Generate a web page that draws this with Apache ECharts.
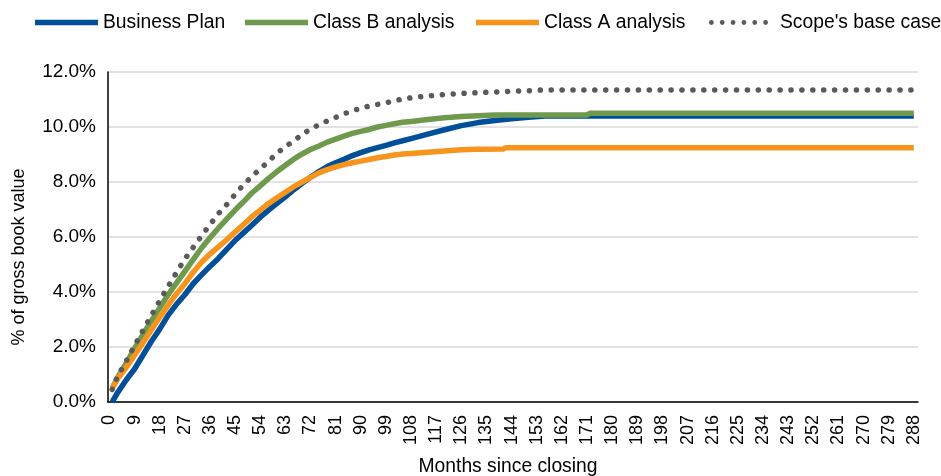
<!DOCTYPE html>
<html>
<head>
<meta charset="utf-8">
<script src="https://cdn.jsdelivr.net/npm/echarts@6/dist/echarts.min.js"></script>
<style>html,body{margin:0;padding:0;background:#fff}#c{width:941px;height:476px}</style>
</head>
<body>
<div id="c"></div>
<script>
// x-axis categories: months since closing
const categories = Array.from({length: 290}, (_, i) => String(i));

// Business Plan
const bpMonths = [1,3,6,9,12,15,18,21,24,27,30,33,36,39,42,45,48,51,54,57,60,63,66,69,72,75,78,81,84,87,90,93,96,99,102,105,108,114,120,126,132,138,144,150,156,288];
const bpValues = [0,0.35,0.8,1.2,1.7,2.2,2.65,3.15,3.55,3.9,4.3,4.62,4.93,5.22,5.55,5.87,6.15,6.43,6.72,6.98,7.22,7.46,7.72,7.95,8.17,8.38,8.56,8.7,8.83,8.96,9.07,9.17,9.25,9.33,9.42,9.5,9.58,9.74,9.9,10.05,10.16,10.24,10.3,10.35,10.4,10.4];

// Class B analysis
const cbMonths = [1,3,6,9,12,15,18,21,24,27,30,33,36,39,42,45,48,51,54,57,60,63,66,69,72,75,78,81,84,87,90,93,96,99,102,105,108,114,120,126,132,138,171,172,288];
const cbValues = [0.5,0.9,1.4,1.95,2.45,2.95,3.42,3.9,4.32,4.75,5.18,5.6,5.97,6.32,6.65,6.98,7.28,7.6,7.86,8.13,8.38,8.61,8.83,9.02,9.18,9.31,9.45,9.56,9.67,9.77,9.84,9.91,10.0,10.06,10.12,10.17,10.2,10.27,10.34,10.38,10.41,10.44,10.44,10.5,10.5];

// Class A analysis
const caMonths = [1,3,6,9,12,15,18,21,24,27,30,33,36,39,42,45,48,51,54,57,60,63,66,69,72,75,78,81,84,87,90,93,96,99,102,105,108,114,120,126,132,141,142,288];
const caValues = [0.5,0.85,1.25,1.7,2.15,2.62,3.08,3.52,3.93,4.3,4.72,5.08,5.38,5.64,5.9,6.18,6.45,6.74,6.98,7.22,7.43,7.63,7.83,8.0,8.17,8.33,8.45,8.55,8.63,8.7,8.76,8.82,8.88,8.93,8.98,9.02,9.04,9.08,9.13,9.17,9.19,9.2,9.25,9.25];

// Scope's base case
const sbMonths = [1,3,6,9,12,15,18,21,24,27,30,33,36,39,42,45,48,51,54,57,60,63,66,69,72,75,78,81,84,87,90,93,96,99,102,105,108,114,120,126,132,138,144,150,156,288];
const sbValues = [0.46,0.95,1.48,2.05,2.6,3.15,3.68,4.2,4.7,5.2,5.62,6.04,6.45,6.85,7.18,7.55,7.9,8.2,8.48,8.75,9.05,9.28,9.5,9.72,9.93,10.08,10.22,10.35,10.48,10.59,10.68,10.76,10.82,10.88,10.95,11.02,11.06,11.13,11.18,11.22,11.25,11.27,11.3,11.32,11.35,11.35];

const seriesNames = ['Business Plan', 'Class B analysis', 'Class A analysis', "Scope's base case"];
const seriesColors = ['#004F98', '#6F9A4E', '#F7941D', '#5A5A5A'];

const pair = (ms, vs) => ms.map((m, i) => [m, vs[i]]);
const FONT = 'Liberation Sans, Arial, sans-serif';

const LINE_ICON = 'path://M0,0 H62 V5.5 H0 Z';
let dotPath = 'path://';
for (let k = 0; k < 6; k++) {
  const cx = 2.5 + k * 11.3;
  dotPath += 'M' + (cx - 2.5) + ',2.5 a2.5,2.5 0 1,0 5,0 a2.5,2.5 0 1,0 -5,0 ';
}

const legendAt = (i, left, icon, width, textPad) => ({
  left, top: 13, padding: 0, itemWidth: width, itemHeight: 20,
  itemStyle: {borderWidth: 0},
  textStyle: {fontSize: 19.3, color: '#000', fontFamily: FONT, padding: textPad || 0},
  data: [{name: seriesNames[i], icon}]
});

const chart = echarts.init(document.getElementById('c'), null, {renderer: 'canvas'});
const lineSeries = (name, color, data, extra) => Object.assign({
  name, type: 'line', data, symbol: 'none', showSymbol: false,
  lineStyle: {color, width: 5.5, cap: 'butt', join: 'round'},
  itemStyle: {color},
  animation: false
}, extra || {});

chart.setOption({
  animation: false,
  textStyle: {fontFamily: FONT},
  legend: [
    legendAt(0, 35, LINE_ICON, 63),
    legendAt(1, 245, LINE_ICON, 63),
    legendAt(2, 476, LINE_ICON, 63),
    legendAt(3, 709, dotPath, 59, [0, 0, 0, 7])
  ],
  grid: {left: 108, right: 23, top: 72, bottom: 74, containLabel: false},
  xAxis: {
    type: 'category', data: categories, boundaryGap: true,
    axisLine: {lineStyle: {color: '#000', width: 1.5}},
    axisTick: {show: false},
    axisLabel: {interval: 8, rotate: 90, fontSize: 18, color: '#000', margin: 13, fontFamily: FONT},
    splitLine: {show: false}
  },
  yAxis: {
    type: 'value', min: 0, max: 12, interval: 2,
    axisLine: {show: true, lineStyle: {color: '#000', width: 1.5}},
    axisTick: {show: false},
    axisLabel: {formatter: v => v.toFixed(1) + '%', fontSize: 19, color: '#000', margin: 12, fontFamily: FONT},
    splitLine: {show: true, lineStyle: {color: '#d9d9d9', width: 1.5}}
  },
  graphic: [
    {type: 'text', x: 508, y: 467, style: {text: 'Months since closing', fontSize: 19.3, fill: '#000', fontFamily: FONT, textAlign: 'center', textVerticalAlign: 'middle'}},
    {type: 'text', x: 19, y: 257, rotation: Math.PI / 2, style: {text: '% of gross book value', fontSize: 18, fill: '#000', fontFamily: FONT, textAlign: 'center', textVerticalAlign: 'middle'}}
  ],
  series: [
    lineSeries(seriesNames[0], seriesColors[0], pair(bpMonths, bpValues)),
    lineSeries(seriesNames[1], seriesColors[1], pair(cbMonths, cbValues)),
    lineSeries(seriesNames[2], seriesColors[2], pair(caMonths, caValues)),
    lineSeries(seriesNames[3], seriesColors[3], pair(sbMonths, sbValues), {
      lineStyle: {color: seriesColors[3], width: 5.5, type: [0.1, 10.8], cap: 'round'}
    })
  ]
});
</script>
</body>
</html>
